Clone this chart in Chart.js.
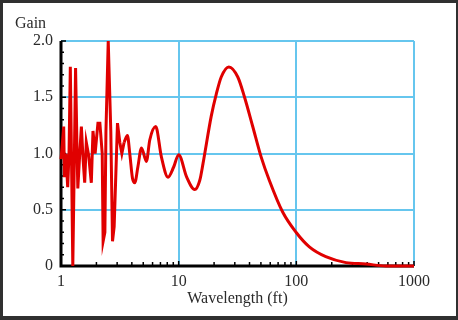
<!DOCTYPE html>
<html>
<head>
<meta charset="utf-8">
<script src="https://cdn.jsdelivr.net/npm/chart.js@4/dist/chart.umd.min.js"></script>
<style>
  html, body { margin: 0; padding: 0; background: #303030; }
  #cadre { position: absolute; left: 3px; top: 3px; width: 453px; height: 313px; background: #fff; }
  canvas { display: block; }
</style>
</head>
<body>
<div id="cadre"><canvas id="graphique" width="453" height="313"></canvas></div>
<script>
// Longueurs d'onde (ft) et gain
const longueursOnde = [1, 1.02, 1.054, 1.07, 1.10, 1.14, 1.17, 1.20, 1.23, 1.26,
  1.30, 1.33, 1.37, 1.39, 1.44, 1.49, 1.54, 1.59, 1.64, 1.72,
  1.81, 1.87, 1.95, 2.06, 2.14, 2.24, 2.28, 2.36, 2.41, 2.52,
  2.65, 2.74, 2.83, 3.02, 3.16, 3.29, 3.44, 3.67, 3.84, 4.05,
  4.24, 4.5, 4.83, 5.32, 5.68, 6.38, 7.13, 8.12, 9.07, 10,
  11.7, 13.7, 15.1, 16.1, 18.9, 20.9, 23, 26.7, 31.8, 36.3,
  42.6, 50.2, 59, 76.5, 99.4, 129, 178, 264, 390, 575, 1000];
const gains = [0.95, 1.05, 1.24, 0.79, 1.0, 0.70, 1.0, 1.77, 0.9, 0,
  1.0, 1.76, 1.0, 0.69, 0.98, 1.24, 0.95, 0.74, 1.10, 0.98,
  0.74, 1.20, 1.0, 1.27, 1.27, 1.0, 0.22, 0.3, 1.2, 2.0,
  1.2, 0.22, 0.35, 1.27, 1.1, 1.0, 1.1, 1.16, 1.0, 0.78,
  0.74, 0.88, 1.05, 0.93, 1.12, 1.24, 0.97, 0.79, 0.88, 0.99,
  0.79, 0.68, 0.76, 0.91, 1.33, 1.53, 1.68, 1.77, 1.68, 1.50,
  1.24, 0.97, 0.76, 0.48, 0.30, 0.17, 0.083, 0.03, 0.018, 0, 0];

// Au-delà de cette longueur d'onde la courbe devient lisse
const limiteBruit = 3.44;

// Graduations
const ticksX = [1, 2, 3, 4, 5, 6, 7, 8, 9, 10, 20, 30, 40, 50, 60, 70, 80, 90,
  100, 200, 300, 400, 500, 600, 700, 800, 900, 1000];
const ticksXMajeurs = [1, 10, 100, 1000];
const ticksYMajeurs = [0, 0.5, 1.0, 1.5, 2.0];

const CYAN = '#66c6ee';
const ROUGE = '#e00000';
const POLICE = { family: 'Liberation Serif', size: 16 };

const estMajeurY = (v) => ticksYMajeurs.some((m) => Math.abs(m - v) < 1e-6);

const points = longueursOnde.map((l, i) => ({ x: l, y: gains[i] }));

// Axes noirs avec graduations vers l'intérieur + titre "Gain"
const axesPlugin = {
  id: 'axes',
  beforeDatasetsDraw(chart) {
    const { ctx, chartArea: a, scales: { x, y } } = chart;
    ctx.save();
    ctx.strokeStyle = '#000';
    ctx.lineWidth = 1.5;
    ticksX.forEach((v) => {
      const px = x.getPixelForValue(v);
      const len = ticksXMajeurs.includes(v) ? 5 : 4;
      ctx.beginPath();
      ctx.moveTo(px, a.bottom);
      ctx.lineTo(px, a.bottom - len);
      ctx.stroke();
    });
    y.ticks.forEach((t) => {
      const py = y.getPixelForValue(t.value);
      const len = estMajeurY(t.value) ? 5 : 3;
      ctx.beginPath();
      ctx.moveTo(a.left, py);
      ctx.lineTo(a.left + len, py);
      ctx.stroke();
    });
    ctx.lineWidth = 3;
    ctx.beginPath();
    ctx.moveTo(a.left, a.top);
    ctx.lineTo(a.left, a.bottom);
    ctx.lineTo(a.right, a.bottom);
    ctx.stroke();
    ctx.restore();
  },
  afterDraw(chart) {
    const ctx = chart.ctx;
    ctx.save();
    ctx.font = '16px "Liberation Serif"';
    ctx.fillStyle = '#2a2a2a';
    ctx.textBaseline = 'alphabetic';
    ctx.fillText('Gain', 12, 25);
    ctx.restore();
  }
};

new Chart(document.getElementById('graphique'), {
  type: 'line',
  data: {
    datasets: [
      {
        // partie bruitée : segments droits
        data: points.filter((p) => p.x <= limiteBruit),
        borderColor: ROUGE,
        borderWidth: 3,
        pointRadius: 0,
        tension: 0,
        fill: false,
        clip: 6
      },
      {
        // partie lisse
        data: points.filter((p) => p.x >= limiteBruit),
        borderColor: ROUGE,
        borderWidth: 3,
        pointRadius: 0,
        cubicInterpolationMode: 'monotone',
        fill: false,
        clip: 6
      }
    ]
  },
  options: {
    responsive: false,
    animation: false,
    layout: { padding: { top: 38, right: 42, left: 0, bottom: 0 } },
    plugins: { legend: { display: false }, tooltip: { enabled: false } },
    scales: {
      x: {
        type: 'logarithmic',
        min: 1,
        max: 1000,
        afterBuildTicks: (s) => { s.ticks = ticksX.map((v) => ({ value: v })); },
        afterFit: (s) => { s.height = 50; },
        border: { display: false },
        grid: {
          drawTicks: false,
          lineWidth: 2,
          color: (c) => (c.tick && [10, 100, 1000].includes(c.tick.value) ? CYAN : 'rgba(0,0,0,0)')
        },
        ticks: {
          autoSkip: false,
          maxRotation: 0,
          padding: 6,
          color: '#2a2a2a',
          font: POLICE,
          callback: (v) => (ticksXMajeurs.includes(v) ? String(v) : '')
        },
        title: { display: true, text: 'Wavelength (ft)', color: '#2a2a2a', font: POLICE, padding: 8 }
      },
      y: {
        min: 0,
        max: 2,
        afterFit: (s) => { s.width = 58; },
        border: { display: false },
        grid: {
          drawTicks: false,
          lineWidth: 2,
          color: (c) => (c.tick && c.tick.value > 0 && estMajeurY(c.tick.value) ? CYAN : 'rgba(0,0,0,0)')
        },
        ticks: {
          stepSize: 0.1,
          autoSkip: false,
          padding: 8,
          color: '#2a2a2a',
          font: POLICE,
          callback: (v) => (estMajeurY(v) ? (v === 0 ? '0' : v.toFixed(1)) : '')
        }
      }
    }
  },
  plugins: [axesPlugin]
});
</script>
</body>
</html>
